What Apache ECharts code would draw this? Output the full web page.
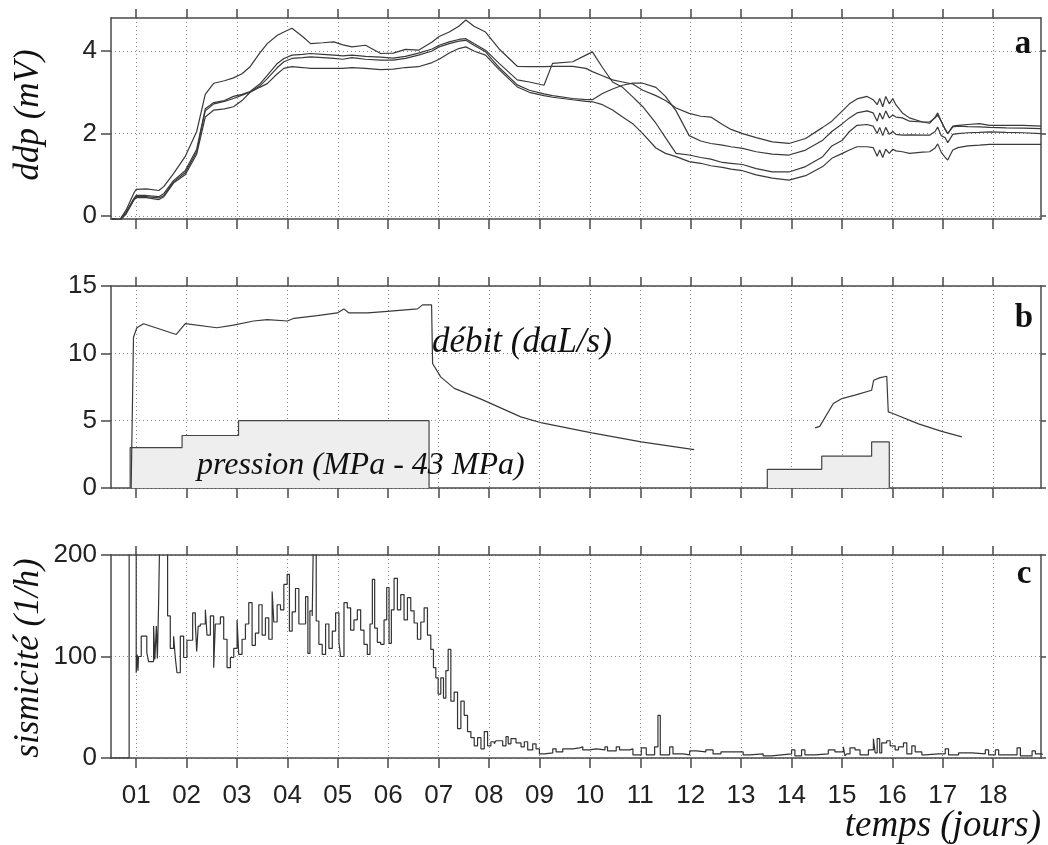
<!DOCTYPE html>
<html>
<head>
<meta charset="utf-8">
<script src="https://cdn.jsdelivr.net/npm/echarts@6/dist/echarts.min.js"></script>
<style>
html, body { margin: 0; padding: 0; background: #fff; }
#chart { width: 1048px; height: 845px; }
</style>
</head>
<body>
<div id="chart"></div>
<script>
// --- panel a : ddp (mV), four electrodes, sampled at common days
var ddpDays = [
  0.52, 0.68, 0.8, 0.95, 1.0, 1.2, 1.45, 1.55, 1.74, 1.97,
  2.2, 2.37, 2.54, 2.75, 2.93, 3.1, 3.26, 3.45, 3.6, 3.8,
  3.93, 4.09, 4.3, 4.46, 4.7, 4.92, 5.1, 5.28, 5.55, 5.85,
  6.1, 6.34, 6.6, 6.87, 7.01, 7.21, 7.4, 7.54, 7.7, 7.93,
  8.2, 8.56, 8.8, 9.09, 9.26, 9.66, 9.92, 10.05, 10.25, 10.45,
  10.65, 10.85, 11.05, 11.31, 11.5, 11.71, 11.97, 12.2, 12.4, 12.63,
  12.8, 13.03, 13.3, 13.62, 13.95, 14.28, 14.62, 14.8, 15.01, 15.15,
  15.3, 15.5, 15.62, 15.7, 15.75, 15.81, 15.87, 15.94, 16.01, 16.07,
  16.2, 16.34, 16.6, 16.74, 16.85, 16.9, 16.97, 17.05, 17.1, 17.2,
  17.3, 17.5, 17.73, 17.93, 18.26, 18.6, 18.95
];
var ddp1 = [
  -0.06, -0.08, 0.15, 0.55, 0.65, 0.66, 0.62, 0.72, 1.03, 1.44,
  2.05, 2.95, 3.22, 3.28, 3.35, 3.45, 3.62, 3.95, 4.18, 4.38,
  4.46, 4.55, 4.35, 4.18, 4.2, 4.22, 4.15, 4.1, 4.14, 3.94,
  3.95, 4.04, 4.02, 4.22, 4.35, 4.46, 4.6, 4.75, 4.6, 4.46,
  4.05, 3.63, 3.62, 3.62, 3.63, 3.63, 3.58, 3.5, 3.4, 3.3,
  3.25, 3.2, 3.05, 2.92, 2.8, 2.62, 2.49, 2.42, 2.4, 2.22,
  2.1, 2.0, 1.9, 1.8, 1.76, 1.88, 2.15, 2.3, 2.55, 2.72,
  2.84, 2.9, 2.82, 2.7, 2.85, 2.65, 2.9, 2.72, 2.85, 2.7,
  2.5, 2.38, 2.28, 2.25, 2.4, 2.5, 2.3, 2.1, 2.0, 2.18,
  2.2, 2.22, 2.24, 2.2, 2.2, 2.2, 2.18
];
var ddp2 = [
  -0.07, -0.1, 0.1, 0.42, 0.5, 0.5, 0.47, 0.55, 0.86, 1.1,
  1.62, 2.6, 2.75, 2.8, 2.9, 2.95, 3.02, 3.2, 3.41, 3.7,
  3.82, 3.9, 3.92, 3.94, 3.92, 3.9, 3.88, 3.9, 3.87, 3.85,
  3.83, 3.87, 3.95, 4.05, 4.14, 4.22, 4.28, 4.3, 4.18, 4.02,
  3.7, 3.3, 3.25, 3.17, 3.7, 3.74, 3.9, 3.98, 3.6, 3.25,
  3.12, 2.89, 2.65, 2.25, 1.9, 1.52, 1.48, 1.42, 1.38, 1.3,
  1.28, 1.25, 1.15, 1.07, 1.07, 1.2, 1.44, 1.7, 1.84, 2.05,
  2.2, 2.22, 2.18, 2.0, 2.15, 1.95, 2.15, 1.98, 2.05, 1.98,
  1.96, 1.97, 1.96, 1.96, 2.05, 2.16, 1.95, 1.9, 1.78, 1.98,
  2.0, 2.02, 2.03, 2.04, 2.03, 2.02, 2.0
];
var ddp3 = [
  -0.08, -0.1, 0.08, 0.4, 0.47, 0.47, 0.44, 0.5, 0.83, 1.05,
  1.56, 2.55, 2.72, 2.78, 2.85, 2.93, 3.0, 3.15, 3.33, 3.6,
  3.74, 3.82, 3.84, 3.86, 3.84, 3.82, 3.8, 3.84, 3.8, 3.78,
  3.78, 3.82, 3.9, 4.0, 4.1, 4.18, 4.24, 4.26, 4.14, 3.98,
  3.6, 3.18, 3.05, 2.96, 2.92, 2.85, 2.82, 2.82, 2.97, 3.08,
  3.17, 3.22, 3.22, 3.12, 2.9, 2.55, 1.95, 1.82, 1.76, 1.72,
  1.68, 1.64, 1.56, 1.5, 1.48, 1.6, 1.84, 2.05, 2.24, 2.38,
  2.5, 2.55, 2.5, 2.3, 2.5, 2.35, 2.55, 2.38, 2.45, 2.4,
  2.38, 2.3, 2.28, 2.28, 2.38, 2.45, 2.3, 2.1, 2.0, 2.16,
  2.18, 2.17, 2.16, 2.15, 2.14, 2.13, 2.12
];
var ddp4 = [
  -0.08, -0.1, 0.05, 0.38, 0.45, 0.45, 0.4, 0.47, 0.8, 1.0,
  1.5, 2.4, 2.57, 2.6, 2.65, 2.8, 3.0, 3.12, 3.21, 3.45,
  3.58, 3.62, 3.6, 3.58, 3.58, 3.58, 3.58, 3.6, 3.58, 3.55,
  3.56, 3.6, 3.62, 3.72, 3.8, 3.95, 4.06, 4.1, 4.0, 3.9,
  3.55, 3.13, 3.0, 2.92, 2.88, 2.82, 2.78, 2.77, 2.7, 2.57,
  2.4, 2.24, 2.0, 1.65, 1.52, 1.44, 1.32, 1.28, 1.22, 1.18,
  1.14, 1.1, 1.0, 0.92, 0.87, 0.98, 1.2, 1.4, 1.52, 1.6,
  1.68, 1.68, 1.66, 1.45, 1.6, 1.42, 1.62, 1.52, 1.62, 1.58,
  1.56, 1.52, 1.55, 1.56, 1.65, 1.75, 1.55, 1.42, 1.36, 1.6,
  1.66, 1.7, 1.72, 1.74, 1.74, 1.74, 1.74
];

// --- panel b : débit (daL/s) and pression (MPa - 43 MPa)
var debitInjection = [
  [0.90, 0], [0.946, 11.2], [1.013, 11.9], [1.146, 12.2], [1.795, 11.4], [1.974, 12.2],
  [2.60, 11.9], [2.93, 12.1], [3.33, 12.4], [3.60, 12.5], [4.0, 12.4], [4.13, 12.6],
  [4.59, 12.8], [4.99, 13.0], [5.12, 13.3], [5.22, 13.0], [5.59, 13.0], [5.92, 13.1],
  [6.58, 13.3], [6.68, 13.6], [6.86, 13.6], [6.88, 9.25], [7.04, 8.25], [7.31, 7.4],
  [7.84, 6.6], [8.63, 5.28], [9.05, 4.83], [10.04, 4.09], [11.02, 3.42], [12.07, 2.85]
];
var debitRestart = [
  [14.47, 4.46], [14.56, 4.58], [14.83, 6.27], [15.0, 6.64], [15.26, 6.9], [15.59, 7.26],
  [15.63, 8.0], [15.76, 8.2], [15.89, 8.3], [15.92, 5.65], [16.0, 5.55], [16.52, 4.76],
  [16.98, 4.2], [17.38, 3.8]
];
var pressionSteps1 = [[0.88, 0], [0.88, 3], [1.91, 3.9], [3.03, 5], [6.81, 0]];
var pressionSteps2 = [[13.52, 0], [13.52, 1.39], [14.6, 2.36], [15.59, 3.42], [15.94, 0]];

// --- panel c : sismicité (1/h), step values [day, rate]
var sismicite = [
  [0.5, 0], [0.86, 250], [1.0, 84], [1.02, 102], [1.035, 86], [1.046, 100], [1.1, 120],
  [1.21, 104], [1.245, 95], [1.345, 130], [1.37, 97], [1.4, 130], [1.42, 98], [1.444, 151],
  [1.477, 250], [1.623, 140], [1.676, 108], [1.742, 120], [1.775, 99], [1.809, 84],
  [1.875, 120], [1.941, 99], [2.007, 116], [2.12, 143], [2.173, 133], [2.2, 105], [2.23, 130],
  [2.272, 132], [2.372, 146], [2.405, 121], [2.471, 140], [2.537, 89], [2.57, 132],
  [2.67, 139], [2.736, 117], [2.802, 89], [2.869, 99], [2.935, 108], [3.001, 136],
  [3.034, 102], [3.1, 117], [3.167, 132], [3.233, 153], [3.299, 111], [3.365, 123],
  [3.432, 151], [3.498, 121], [3.564, 138], [3.63, 117], [3.697, 164], [3.73, 134],
  [3.796, 151], [3.862, 146], [3.929, 171], [3.995, 181], [4.04, 125], [4.094, 144],
  [4.16, 167], [4.227, 132], [4.36, 159], [4.406, 103], [4.446, 145], [4.492, 140],
  [4.525, 250], [4.571, 135], [4.624, 112], [4.69, 102], [4.757, 132], [4.823, 108],
  [4.89, 125], [4.956, 143], [5.022, 114], [5.055, 100], [5.122, 153], [5.188, 148],
  [5.254, 126], [5.32, 136], [5.387, 146], [5.453, 126], [5.519, 112], [5.585, 102],
  [5.638, 132], [5.685, 176], [5.731, 128], [5.784, 114], [5.85, 112], [5.917, 136],
  [5.97, 168], [6.016, 113], [6.062, 146], [6.116, 177], [6.182, 146], [6.248, 161],
  [6.314, 136], [6.381, 158], [6.447, 145], [6.513, 133], [6.579, 117], [6.646, 134],
  [6.712, 148], [6.778, 121], [6.844, 107], [6.897, 89], [6.944, 79], [6.99, 63],
  [7.043, 79], [7.096, 59], [7.143, 86], [7.189, 107], [7.242, 56], [7.308, 65],
  [7.375, 29], [7.441, 56], [7.507, 42], [7.573, 26], [7.64, 20], [7.706, 12],
  [7.772, 20], [7.839, 9], [7.905, 26], [7.971, 12], [8.037, 16], [8.104, 14],
  [8.137, 17], [8.27, 12], [8.336, 21], [8.38, 14], [8.435, 19], [8.535, 15],
  [8.634, 11], [8.7, 16], [8.767, 8], [8.866, 14], [8.932, 9], [8.999, 4], [9.098, 5],
  [9.264, 9], [9.33, 6], [9.462, 9], [9.661, 10], [9.794, 11], [9.86, 8], [9.993, 9],
  [10.125, 8], [10.3, 11], [10.35, 7], [10.523, 11], [10.589, 8], [10.788, 9],
  [10.854, 3], [11.02, 10], [11.119, 3], [11.285, 11], [11.351, 42], [11.397, 3],
  [11.583, 11], [11.649, 4], [11.848, 3], [11.98, 7], [12.113, 6], [12.3, 8],
  [12.444, 4], [12.6, 6], [12.776, 6], [13.041, 3], [13.174, 4], [13.438, 2],
  [13.604, 3], [13.803, 4], [14.002, 8], [14.068, 2], [14.2, 8], [14.267, 3],
  [14.465, 4], [14.731, 8], [14.863, 6], [15.029, 11], [15.06, 2], [15.095, 4],
  [15.161, 10], [15.261, 8], [15.36, 3], [15.526, 8], [15.625, 19], [15.66, 5],
  [15.7, 19], [15.75, 5], [15.79, 15], [15.89, 17], [15.957, 12], [16.056, 8],
  [16.122, 11], [16.222, 15], [16.288, 4], [16.387, 12], [16.454, 6], [16.586, 3],
  [16.652, 4], [16.917, 4], [17.05, 9], [17.116, 3], [17.315, 5], [17.58, 4],
  [17.845, 8], [17.911, 3], [18.044, 8], [18.11, 3], [18.475, 10], [18.541, 2],
  [18.773, 7], [18.839, 4], [18.972, 3]
];

// axes
var dayTicks = [1, 2, 3, 4, 5, 6, 7, 8, 9, 10, 11, 12, 13, 14, 15, 16, 17, 18, 19];
var dayLabels = [1, 2, 3, 4, 5, 6, 7, 8, 9, 10, 11, 12, 13, 14, 15, 16, 17, 18];
var ddpTicks = [0, 2, 4];
var debitTicks = [0, 5, 10, 15];
var sismTicks = [0, 100, 200];

var X_MIN = 0.5, X_MAX = 18.95;
var frameColor = '#4a4a4a';
var gridColor = '#8a8a8a';
var lineColor = '#3a3a3a';
var sansFont = '"Liberation Sans", Arial, sans-serif';
var serifFont = '"Liberation Serif", "Times New Roman", serif';

var panels = [
  { top: 18, height: 201, min: -0.07, max: 4.8, ticks: ddpTicks, labels: false },
  { top: 286, height: 202, min: 0, max: 15, ticks: debitTicks, labels: false },
  { top: 555, height: 203, min: 0, max: 200, ticks: sismTicks, labels: true }
];

function pad2(v) { return (v < 10 ? '0' : '') + v; }

var grids = [], xAxes = [], yAxes = [];
panels.forEach(function (p, i) {
  grids.push({ left: 111, right: 7, top: p.top, height: p.height, containLabel: false });
  xAxes.push({
    type: 'value', gridIndex: i, position: 'bottom', min: X_MIN, max: X_MAX,
    axisLine: { show: true, onZero: false, lineStyle: { color: frameColor, width: 1.5 } },
    axisTick: { show: true, inside: false, length: 10, customValues: dayTicks,
      lineStyle: { color: frameColor, width: 1.5 } },
    axisLabel: { show: p.labels, customValues: dayLabels, margin: 25,
      formatter: function (v) { return pad2(v); },
      color: '#222', fontSize: 26, fontFamily: sansFont },
    splitLine: { show: true, lineStyle: { color: gridColor, width: 1, type: [1, 3] } }
  });
  xAxes.push({
    type: 'value', gridIndex: i, position: 'top', min: X_MIN, max: X_MAX,
    axisLine: { show: true, onZero: false, lineStyle: { color: frameColor, width: 1.5 } },
    axisTick: { show: true, inside: false, length: 9, customValues: dayTicks,
      lineStyle: { color: frameColor, width: 1.5 } },
    axisLabel: { show: false },
    splitLine: { show: false }
  });
  yAxes.push({
    type: 'value', gridIndex: i, position: 'left', min: p.min, max: p.max,
    axisLine: { show: true, onZero: false, lineStyle: { color: frameColor, width: 1.5 } },
    axisTick: { show: true, inside: false, length: 10, customValues: p.ticks,
      lineStyle: { color: frameColor, width: 1.5 } },
    axisLabel: { show: true, customValues: p.ticks, margin: 14,
      color: '#222', fontSize: 26, fontFamily: sansFont },
    splitLine: { show: true, lineStyle: { color: gridColor, width: 1, type: [1, 3] } }
  });
  yAxes.push({
    type: 'value', gridIndex: i, position: 'right', min: p.min, max: p.max,
    axisLine: { show: true, onZero: false, lineStyle: { color: frameColor, width: 1.5 } },
    axisTick: { show: true, inside: false, length: 5, customValues: p.ticks,
      lineStyle: { color: frameColor, width: 1.5 } },
    axisLabel: { show: false },
    splitLine: { show: false }
  });
});

function zip(xs, ys) {
  return xs.map(function (x, k) { return [x, ys[k]]; });
}

function plainLine(data, axisIdx, z) {
  return {
    type: 'line', xAxisIndex: axisIdx, yAxisIndex: axisIdx, data: data,
    showSymbol: false, symbol: 'none', clip: true, z: z || 3,
    lineStyle: { color: lineColor, width: 1.2 }
  };
}

var series = [
  plainLine(zip(ddpDays, ddp1), 0),
  plainLine(zip(ddpDays, ddp2), 0),
  plainLine(zip(ddpDays, ddp3), 0),
  plainLine(zip(ddpDays, ddp4), 0),
  {
    type: 'line', xAxisIndex: 2, yAxisIndex: 2, data: pressionSteps1, step: 'end',
    showSymbol: false, symbol: 'none', z: 2,
    lineStyle: { color: '#444', width: 1.2 },
    areaStyle: { color: '#eeeeee', opacity: 1 }
  },
  {
    type: 'line', xAxisIndex: 2, yAxisIndex: 2, data: pressionSteps2, step: 'end',
    showSymbol: false, symbol: 'none', z: 2,
    lineStyle: { color: '#444', width: 1.2 },
    areaStyle: { color: '#eeeeee', opacity: 1 }
  },
  plainLine(debitInjection, 2, 4),
  plainLine(debitRestart, 2, 4),
  {
    type: 'line', xAxisIndex: 4, yAxisIndex: 4, data: sismicite, step: 'end',
    showSymbol: false, symbol: 'none', clip: true,
    lineStyle: { color: '#333', width: 1.2 }
  }
];

var italic = 'italic 35px ' + serifFont;
var bold = 'bold 33px ' + serifFont;
function label(x, y, text, font, align, rot) {
  return {
    type: 'text', x: x, y: y, rotation: rot || 0, z: 100,
    style: { text: text, font: font, fill: '#111', align: align, verticalAlign: 'middle' }
  };
}
var graphics = [
  label(29, 115, 'ddp (mV)', italic, 'center', Math.PI / 2),
  label(29, 658, 'sismicité (1/h)', italic, 'center', Math.PI / 2),
  label(432, 343, 'débit (daL/s)', italic, 'left'),
  label(197, 466, 'pression (MPa - 43 MPa)', 'italic 32px ' + serifFont, 'left'),
  label(1041, 826, 'temps (jours)', 'italic 37px ' + serifFont, 'right'),
  label(1023, 44, 'a', bold, 'center'),
  label(1024, 318, 'b', bold, 'center'),
  label(1024, 574, 'c', bold, 'center')
];

var chart = echarts.init(document.getElementById('chart'));
chart.setOption({
  animation: false,
  backgroundColor: '#fff',
  grid: grids,
  xAxis: xAxes,
  yAxis: yAxes,
  series: series,
  graphic: graphics
});
</script>
</body>
</html>
